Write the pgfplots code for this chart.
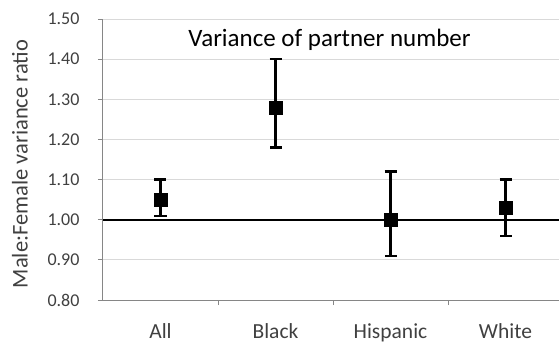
\documentclass[border=0pt]{standalone}
\usepackage{fontspec}
\setmainfont{Carlito}
\usepackage{pgfplots}
\pgfplotsset{compat=1.18}
\definecolor{txt}{HTML}{404040}
\definecolor{gridc}{HTML}{D9D9D9}
\definecolor{axc}{HTML}{868686}
\begin{document}
\begin{tikzpicture}
\useasboundingbox (-103bp,-42bp) rectangle (456bp,300bp);
\begin{axis}[
  at={(0,0)}, anchor=south west,
  scale only axis,
  width=460bp, height=281bp,
  xmin=-0.5, xmax=3.5,
  ymin=0.8, ymax=1.5,
  axis lines*=left,
  axis line style={draw=axc, line width=1bp},
  ytick={0.8,0.9,...,1.51},
  ymajorgrids,
  grid style={draw=gridc, line width=1bp},
  tick align=outside,
  major tick length=5bp,
  tick style={draw=axc, line width=1bp},
  /pgf/number format/assume math mode=true,
  /pgf/number format/.cd, fixed, fixed zerofill, precision=2,
  /pgfplots/.cd,
  yticklabel style={font=\fontsize{18bp}{21bp}\selectfont, text=txt, anchor=east, xshift=-15bp},
  xtick={0.5,1.5,2.5},
  xticklabels={},
  extra x ticks={0,1,2,3},
  extra x tick labels={All,Black,Hispanic,White},
  extra x tick style={major tick length=0pt, xticklabel style={font=\fontsize{21.5bp}{24bp}\selectfont, text=txt, anchor=base, yshift=-38bp}},
  ylabel={Male:Female variance ratio},
  every axis y label/.style={at={(axis description cs:-0.1804,0.484)}, rotate=90, anchor=center, font=\fontsize{22.5bp}{26bp}\selectfont, text=txt},
  clip=false,
]
\draw[black, line width=2bp] (axis cs:-0.5,1.0) -- (axis cs:3.5,1.0);
\addplot[black, only marks, mark=square*, mark size=6.5bp,
  error bars/.cd, y dir=both, y explicit,
  error bar style={line width=2.3bp, black},
  error mark options={rotate=90, mark size=6bp, line width=2.3bp, black}]
  coordinates {
  (0,1.05) += (0,0.05) -= (0,0.04)
  (1,1.28) += (0,0.12) -= (0,0.10)
  (2,1.00) += (0,0.12) -= (0,0.09)
  (3,1.03) += (0,0.07) -= (0,0.07)
  };
\node[font=\fontsize{25bp}{29bp}\selectfont, text=black] at (axis cs:1.47,1.448) {Variance of partner number};
\end{axis}
\end{tikzpicture}
\end{document}
